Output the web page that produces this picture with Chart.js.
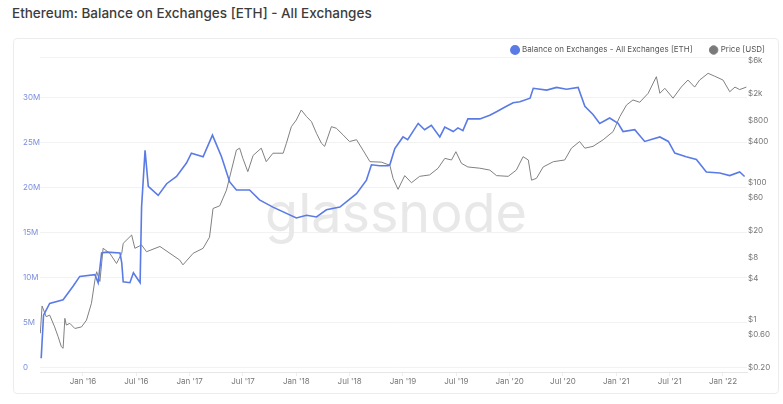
<!DOCTYPE html>
<html>
<head>
<meta charset="utf-8">
<script src="https://cdn.jsdelivr.net/npm/chart.js@4.4.1/dist/chart.umd.min.js"></script>
<style>
  html, body { margin: 0; padding: 0; background: #fff; width: 783px; height: 404px; overflow: hidden; }
  #titulo { position: absolute; left: 12px; top: 4px; font: 500 13.5px Inter, sans-serif; color: #3c3c3c; line-height: 18px; }
  #cartao { position: absolute; left: 13px; top: 38px; width: 764px; height: 354px; border: 1px solid #ececec; border-radius: 4px; }
  #grafico { position: absolute; left: 0; top: 0; }
</style>
</head>
<body>
<div id="titulo">Ethereum: Balance on Exchanges [ETH] - All Exchanges</div>
<div id="cartao"></div>
<canvas id="grafico" width="783" height="404"></canvas>
<script>
// dados
const balanceDates = ['2015-08-11','2015-08-19','2015-09-09','2015-10-25','2015-11-28','2015-12-21','2016-02-11','2016-02-22','2016-03-05','2016-03-22',
  '2016-05-07','2016-05-13','2016-05-18','2016-06-10','2016-06-22','2016-07-15','2016-07-20','2016-08-01','2016-08-12','2016-09-15',
  '2016-10-14','2016-11-17','2016-12-21','2017-01-07','2017-02-16','2017-03-20','2017-04-20','2017-05-18','2017-06-10','2017-07-25',
  '2017-08-28','2017-10-13','2018-01-01','2018-02-05','2018-03-11','2018-04-14','2018-05-30','2018-07-26','2018-08-29','2018-09-15',
  '2018-10-13','2018-11-11','2018-11-17','2018-12-04','2019-01-01','2019-01-17','2019-02-22','2019-03-16','2019-04-08','2019-05-07',
  '2019-05-24','2019-06-22','2019-07-08','2019-07-25','2019-08-11','2019-09-21','2019-10-25','2019-11-17','2019-12-21','2020-01-13',
  '2020-02-05','2020-03-11','2020-03-22','2020-05-07','2020-06-10','2020-07-14','2020-08-23','2020-09-03','2020-09-15','2020-10-13',
  '2020-11-05','2020-12-09','2021-01-07','2021-01-24','2021-03-05','2021-04-08','2021-05-30','2021-06-28','2021-07-20','2021-08-28',
  '2021-10-02','2021-11-05','2021-12-21','2022-01-24','2022-02-27','2022-03-16'];
const balanceValues = [1.0,5.8,7.1,7.5,9.0,10.1,10.3,9.4,12.7,12.8,
  12.7,11.6,9.5,9.4,10.5,9.4,17.8,24.1,20.1,19.1,
  20.4,21.2,22.7,23.8,23.4,25.8,23.4,20.6,19.7,19.7,
  18.6,17.8,16.6,16.9,16.7,17.5,17.8,19.3,20.8,22.5,
  22.4,22.4,22.5,24.3,25.6,25.3,27.1,26.4,26.9,25.6,
  26.7,26.2,26.6,26.3,27.6,27.6,28.0,28.4,29.0,29.4,
  29.5,29.9,31.0,30.8,31.1,30.9,31.1,30.1,29.0,28.1,
  27.1,27.7,27.1,26.2,26.4,25.1,25.6,25.1,23.8,23.4,
  23.1,21.7,21.6,21.3,21.7,21.2]; // milhoes de ETH

const priceDates = ['2015-08-08','2015-08-14','2015-08-28','2015-09-09','2015-09-26','2015-10-08','2015-10-19','2015-10-25','2015-10-31','2015-11-05',
  '2015-11-17','2015-12-04','2015-12-27','2016-01-13','2016-01-30','2016-02-11','2016-02-17','2016-02-28','2016-03-10','2016-04-02',
  '2016-04-25','2016-05-13','2016-05-18','2016-06-16','2016-06-27','2016-07-20','2016-08-06','2016-09-21','2016-11-28','2016-12-09',
  '2017-01-13','2017-02-16','2017-03-10','2017-03-22','2017-04-14','2017-05-07','2017-05-24','2017-06-10','2017-06-21','2017-07-02',
  '2017-07-19','2017-08-06','2017-09-03','2017-09-20','2017-10-13','2017-11-17','2017-11-28','2017-12-15','2018-01-01','2018-01-18',
  '2018-02-05','2018-02-22','2018-03-11','2018-03-28','2018-04-08','2018-05-01','2018-05-18','2018-06-10','2018-07-02','2018-07-26',
  '2018-08-17','2018-09-10','2018-10-19','2018-11-17','2018-11-28','2018-12-15','2019-01-07','2019-01-30','2019-02-27','2019-04-02',
  '2019-05-01','2019-05-24','2019-06-16','2019-07-01','2019-07-20','2019-08-11','2019-09-21','2019-10-25','2019-11-17','2019-12-27',
  '2020-01-24','2020-02-16','2020-03-05','2020-03-16','2020-04-02','2020-04-25','2020-05-30','2020-07-08','2020-07-31','2020-08-28',
  '2020-09-15','2020-10-13','2020-11-17','2020-12-21','2021-01-13','2021-02-05','2021-02-27','2021-03-22','2021-04-20','2021-05-18',
  '2021-05-30','2021-06-16','2021-07-14','2021-08-11','2021-09-03','2021-09-26','2021-10-13','2021-11-11','2021-12-04','2022-01-01',
  '2022-01-24','2022-02-11','2022-02-27','2022-03-22'];
const priceValues = [0.63,1.58,1.10,1.16,0.78,0.56,0.40,0.38,1.04,0.83,
  0.88,0.74,0.78,0.98,1.73,3.78,5.0,3.6,11,9.3,
  6.6,9.3,13,17.2,11,12.3,9.8,11.7,7.4,6.3,
  9.3,11,16,42,46,78,153,300,320,227,
  145,250,320,203,270,270,377,660,826,1156,
  925,780,527,377,340,660,625,500,400,425,
  300,203,200,180,116,80,127,100,124,130,
  163,227,215,284,192,170,163,153,127,124,
  153,240,215,109,116,170,203,215,320,400,
  320,340,425,560,925,1370,1620,1500,2030,3550,
  2030,2400,1720,2500,3170,2500,3170,3970,3600,3170,
  2140,2500,2300,2500];

const leftTicks = [0, 5e6, 10e6, 15e6, 20e6, 25e6, 30e6];
const rightTicks = [0.2, 0.6, 1, 4, 8, 20, 60, 100, 400, 800, 2000, 6000];
const xTicks = [2016, 2016.5, 2017, 2017.5, 2018, 2018.5, 2019, 2019.5, 2020, 2020.5, 2021, 2021.5, 2022];

function anoDecimal(s) {
    const [a, m, d] = s.split('-').map(Number);
    const ini = Date.UTC(a, 0, 1), fim = Date.UTC(a + 1, 0, 1);
    return a + (Date.UTC(a, m - 1, d) - ini) / (fim - ini);
}

const yMax = 34.48e6;
const fonte = { family: 'Inter', size: 8 };

// marca d'agua
const marcaDagua = {
    id: 'marcaDagua',
    beforeDatasetsDraw(chart) {
        const ctx = chart.ctx;
        ctx.save();
        ctx.font = '400 58px Inter';
        const w = ctx.measureText('glassnode').width;
        const s = 262 / w;
        ctx.font = '400 ' + (58 * s).toFixed(1) + 'px Inter';
        ctx.fillStyle = '#e8e8e8';
        ctx.textAlign = 'center';
        ctx.textBaseline = 'alphabetic';
        ctx.fillText('glassnode', 396, 232);
        ctx.restore();
    }
};

new Chart(document.getElementById('grafico').getContext('2d'), {
    type: 'line',
    data: {
        datasets: [
            {
                label: 'Balance on Exchanges - All Exchanges [ETH]',
                data: balanceDates.map((d, i) => ({ x: anoDecimal(d), y: balanceValues[i] * 1e6 })),
                borderColor: '#5a7be6',
                backgroundColor: '#5a7be6',
                borderWidth: 1.6,
                pointRadius: 0,
                yAxisID: 'y'
            },
            {
                label: 'Price [USD]',
                data: priceDates.map((d, i) => ({ x: anoDecimal(d), y: priceValues[i] })),
                borderColor: '#808080',
                backgroundColor: '#7a7a7a',
                borderWidth: 1,
                pointRadius: 0,
                yAxisID: 'y1'
            }
        ]
    },
    plugins: [marcaDagua],
    options: {
        responsive: false,
        animation: false,
        layout: { padding: { top: 28, left: 23, right: 0, bottom: 0 } },
        plugins: {
            legend: {
                position: 'top',
                align: 'end',
                maxHeight: 29,
                labels: {
                    usePointStyle: true,
                    pointStyle: 'circle',
                    boxWidth: 6,
                    boxHeight: 6,
                    padding: 18,
                    color: '#555',
                    font: fonte
                }
            },
            tooltip: { enabled: false }
        },
        scales: {
            x: {
                type: 'linear',
                min: 2015.597,
                max: 2022.225,
                afterBuildTicks: (s) => { s.ticks = xTicks.map(v => ({ value: v })); },
                afterFit: (s) => { s.height = 32; },
                ticks: {
                    color: '#777',
                    font: fonte,
                    padding: 1,
                    autoSkip: false,
                    maxRotation: 0,
                    callback: (v) => {
                        const a = Math.floor(v + 1e-6);
                        return (v - a > 0.25 ? 'Jul' : 'Jan') + " '" + String(a).slice(2);
                    }
                },
                grid: { drawOnChartArea: false, tickLength: 4, color: '#eeeeee' },
                border: { color: '#e6e6e6' }
            },
            y: {
                position: 'left',
                min: -0.52e6,
                max: yMax,
                afterBuildTicks: (s) => { s.ticks = leftTicks.concat([yMax]).map(v => ({ value: v })); },
                afterFit: (s) => { s.width = 17; },
                ticks: {
                    color: '#7b8fdc',
                    font: fonte,
                    crossAlign: 'far',
                    padding: 0,
                    autoSkip: false,
                    callback: (v) => v === yMax ? '' : (v === 0 ? '0' : (v / 1e6) + 'M')
                },
                grid: { color: '#f2f2f2', drawTicks: false },
                border: { display: false }
            },
            y1: {
                type: 'logarithmic',
                position: 'right',
                min: 0.171,
                max: 6884,
                afterBuildTicks: (s) => { s.ticks = rightTicks.map(v => ({ value: v })); },
                afterFit: (s) => { s.width = 36; },
                ticks: {
                    color: '#777',
                    font: fonte,
                    padding: 1,
                    autoSkip: false,
                    callback: (v) => v >= 1000 ? '$' + (v / 1000) + 'k' : (v < 1 ? '$' + v.toFixed(2) : '$' + v)
                },
                grid: { display: false, drawTicks: false },
                border: { display: false }
            }
        }
    }
});
</script>
</body>
</html>
